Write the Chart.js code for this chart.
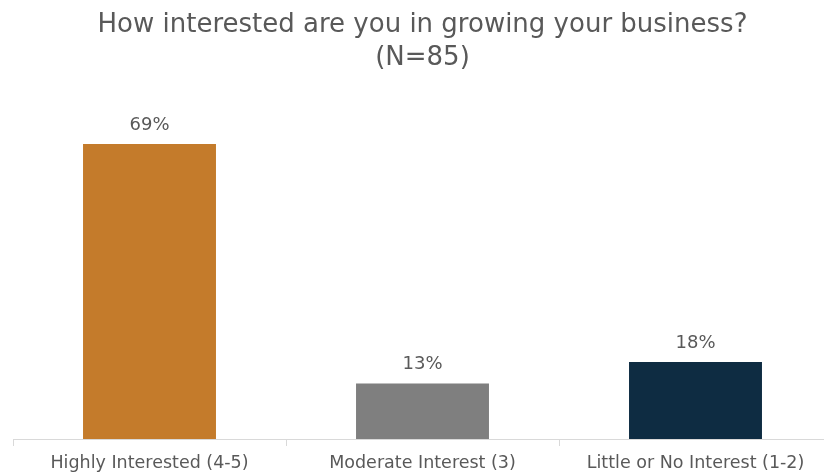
<!DOCTYPE html>
<html>
<head>
<meta charset="utf-8">
<script src="https://cdn.jsdelivr.net/npm/chart.js@4"></script>
<style>
  html, body { margin: 0; padding: 0; background: #ffffff; overflow: hidden; }
  #wrap { width: 836px; height: 481px; }
</style>
</head>
<body>
<div id="wrap"><canvas id="chart" width="836" height="481"></canvas></div>
<script>
// Survey responses: interest in growing the business
const categories = ['Highly Interested (4-5)', 'Moderate Interest (3)', 'Little or No Interest (1-2)'];
const percentages = [69, 13, 18];
const barColors = ['#C47B2B', '#7F7F7F', '#0E2C42'];
const titleLines = ['How interested are you in growing your business?', '(N=85)'];

const textColor = '#595959';
const fontFamily = '"DejaVu Sans", sans-serif';

// Writes each bar's percentage just above it
const valueLabels = {
  id: 'valueLabels',
  afterDatasetsDraw(chart) {
    const ctx = chart.ctx;
    const meta = chart.getDatasetMeta(0);
    ctx.save();
    ctx.font = '18px ' + fontFamily;
    ctx.fillStyle = textColor;
    ctx.textAlign = 'center';
    ctx.textBaseline = 'bottom';
    meta.data.forEach((bar, i) => {
      ctx.fillText(percentages[i] + '%', bar.x, bar.y - 10);
    });
    ctx.restore();
  }
};

new Chart(document.getElementById('chart'), {
  type: 'bar',
  data: {
    labels: categories,
    datasets: [{
      data: percentages,
      backgroundColor: barColors,
      borderWidth: 0,
      barPercentage: 1,
      categoryPercentage: 0.487
    }]
  },
  options: {
    responsive: false,
    animation: false,
    layout: { padding: { left: 13, right: 4, top: 0, bottom: 0 } },
    plugins: {
      legend: { display: false },
      tooltip: { enabled: false },
      title: {
        display: true,
        text: titleLines,
        color: textColor,
        font: { family: fontFamily, size: 26, weight: 'normal', lineHeight: 1.27 },
        padding: { top: 9, bottom: 22 }
      }
    },
    scales: {
      y: {
        display: false,
        min: 0,
        max: 80
      },
      x: {
        grid: {
          offset: true,
          drawOnChartArea: false,
          drawTicks: true,
          tickLength: 7,
          color: '#D9D9D9',
          lineWidth: 1
        },
        border: { display: true, color: '#D9D9D9', width: 1 },
        ticks: {
          color: textColor,
          font: { family: fontFamily, size: 17.5 },
          padding: 7,
          maxRotation: 0
        }
      }
    }
  },
  plugins: [valueLabels]
});
</script>
</body>
</html>
